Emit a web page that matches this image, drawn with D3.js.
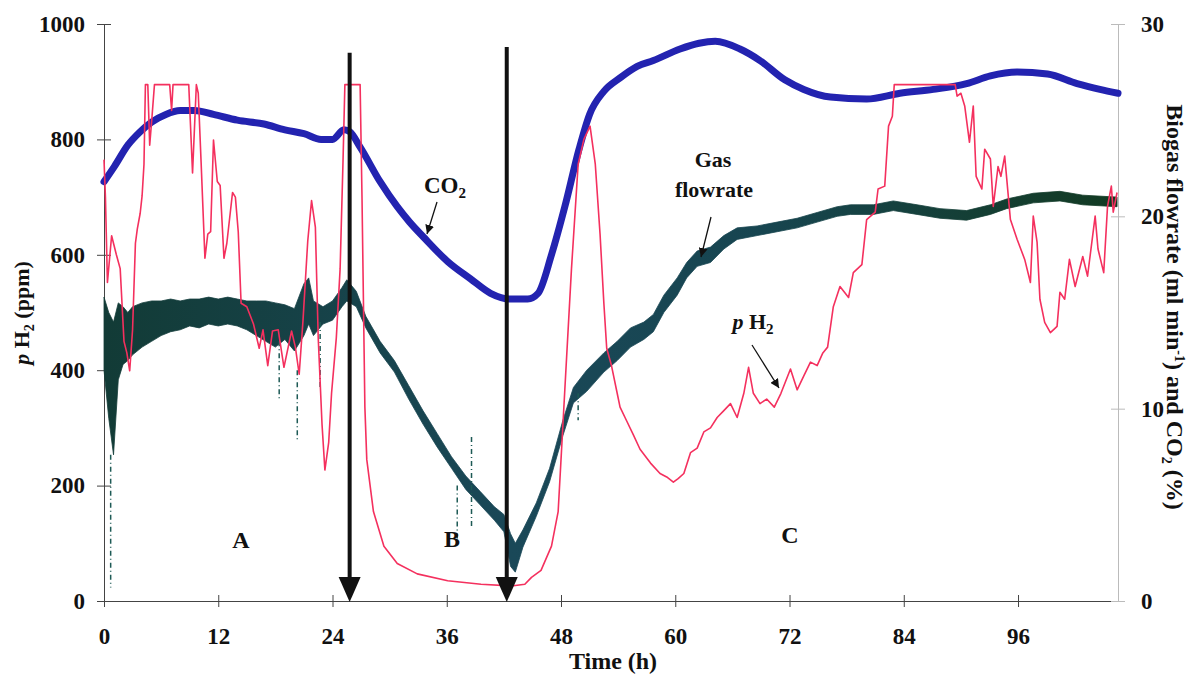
<!DOCTYPE html>
<html>
<head>
<meta charset="utf-8">
<style>
    body { margin: 0; background: #fff; }
    text { font-family: "Liberation Serif", "Times New Roman", serif; font-weight: bold; fill: #111; }
</style>
</head>
<body>
<svg id="chart" width="1201" height="678"></svg>
<script src="https://cdn.jsdelivr.net/npm/d3@7"></script>
<script>
// ---- data ----
let xTicks = [0, 12, 24, 36, 48, 60, 72, 84, 96]
let leftTicks = [0, 200, 400, 600, 800, 1000]
let rightTicks = [0, 10, 20, 30]

// CO2 (%), right axis
let co2Time = [0, 1.1, 2.5, 3.8, 5.0, 6.5, 8.0, 9.5, 11.5, 14.0, 16.8, 19.0, 21.0, 22.8, 24.0, 25.2, 25.8, 26.9,
    29.0, 30.8, 32.1, 33.6, 36.1, 38.5, 40.6, 42.6, 44.5, 45.6, 47.0, 48.4, 49.9, 51.0, 52.5, 54.2, 56.0, 57.7,
    60.5, 62.5, 64.2, 66.8, 68.9, 71.5, 73.5, 76.3, 80.1, 83.6, 87.1, 90.6, 93.1, 95.9, 99.1, 102.2, 104.6, 106.5]
let co2Values = [21.8, 22.6, 23.7, 24.4, 24.9, 25.3, 25.5, 25.5, 25.3, 25.0, 24.8, 24.5, 24.3, 24.0, 24.0, 24.5, 24.4, 23.6,
    21.8, 20.5, 19.7, 18.9, 17.65, 16.75, 16.0, 15.7, 15.7, 16.0, 18.0, 20.5, 23.5, 25.3, 26.5, 27.2, 27.8, 28.1,
    28.7, 29.0, 29.1, 28.7, 28.1, 27.1, 26.6, 26.2, 26.1, 26.4, 26.6, 26.9, 27.3, 27.5, 27.4, 26.9, 26.6, 26.4]

// pH2 (ppm), left axis
let h2Time = [0.0, 0.15, 0.36, 0.8, 1.3, 1.7, 2.1, 2.4, 2.7, 3.0, 3.3, 3.5, 3.8, 4.0, 4.2, 4.35, 4.6, 4.8, 5.05, 5.3,
    6.9, 7.1, 7.25, 8.9, 9.3, 9.7, 9.9, 10.2, 10.6, 10.9, 11.2, 11.5, 11.9, 12.2, 12.6, 12.9, 13.5, 13.8, 14.1, 14.4,
    15.0, 15.7, 16.3, 16.7, 17.2, 17.7, 18.3, 18.9, 19.7, 20.1, 20.5, 20.9, 21.4, 21.8, 22.2, 22.5, 22.9, 23.2, 23.6,
    23.9, 24.4, 24.8, 25.1, 25.3, 26.9, 27.1, 27.4, 27.6, 28.3, 29.4, 30.8, 32.9, 36.1, 39.6, 42.8, 44.2, 44.9, 45.9,
    47.0, 47.7, 48.0, 48.4, 49.1, 49.8, 50.4, 51.05, 51.6, 52.1, 52.5, 52.8, 53.3, 53.9, 54.2, 54.9, 55.6, 56.3, 57.4,
    58.4, 59.1, 59.8, 60.3, 60.9, 61.6, 62.3, 63.0, 63.7, 64.4, 65.1, 65.8, 66.5, 67.2, 67.7, 68.2, 68.9, 69.6, 70.4,
    71.1, 72.1, 72.8, 73.5, 74.2, 74.9, 75.5, 76.0, 76.6, 77.3, 78.2, 78.7, 79.6, 80.1, 81.0, 81.3, 82.0, 82.4, 82.8,
    83.0, 89.4, 89.6, 90.0, 90.4, 90.9, 91.3, 91.6, 92.2, 92.5, 93.1, 93.4, 93.9, 94.2, 94.6, 95.2, 95.9, 96.7, 97.3,
    97.6, 98.0, 98.3, 98.8, 99.4, 100.1, 100.4, 100.9, 101.4, 102.0, 102.8, 103.3, 103.7, 104.1, 104.4, 105.0, 105.4,
    105.8, 106.0, 106.4]
let h2Values = [765, 700, 552, 633, 600, 576, 450, 430, 399, 470, 620, 645, 672, 702, 757, 895, 895, 790, 841, 895,
    895, 850, 895, 895, 742, 895, 880, 760, 594, 636, 640, 799, 727, 720, 594, 620, 708, 700, 640, 516,
    510, 480, 438, 470, 408, 468, 470, 405, 468, 440, 393, 486, 624, 694, 648, 456, 306, 227, 275,
    360, 456, 576, 760, 895, 895, 697, 336, 245, 155, 95, 65, 47, 35, 29, 26, 29, 41, 53,
    95, 155, 245, 366, 576, 757, 800, 823, 757, 636, 516, 438, 408, 360, 336, 312, 288, 263, 239,
    221, 215, 206, 212, 221, 257, 265, 293, 300, 318, 330, 342, 318, 360, 405, 360, 342, 350, 336,
    360, 402, 366, 390, 414, 408, 430, 440, 510, 545, 526, 569, 583, 661, 674, 714, 719, 823, 840,
    895, 895, 875, 880, 858, 795, 858, 736, 714, 783, 766, 684, 753, 736, 771, 661, 627, 592, 552,
    667, 622, 523, 483, 465, 476, 535, 523, 592, 545, 597, 563, 615, 667, 610, 569, 684,
    719, 674, 708]

// Gas flowrate (ml/min), right axis: noisy band, low and high edge
let gasTime = [0, 0.5, 1.0, 1.5, 2.0, 2.5, 3, 4, 5, 6, 7, 8, 9, 10, 11, 12, 13, 14, 15, 16, 17, 18, 19, 20, 21, 21.5,
    22, 23, 24, 25, 25.5, 26.5, 27.5, 29, 30.5, 32, 33.5, 35, 36.5, 38, 39.5, 41, 42, 42.7, 43.2, 44, 45.4, 46.8,
    48.2, 49.3, 50.7, 52.5, 53.9, 55.3, 56.7, 57.7, 58.8, 60.2, 61.2, 62.3, 63.7, 65.1, 66.5, 68.6, 70.7, 72.8,
    74.9, 77, 78.4, 80.8, 82.9, 85.4, 87.8, 90.6, 93.1, 94.8, 97.6, 100.4, 102.8, 106.4]
let gasLow = [12.0, 9.5, 7.6, 11.5, 12.3, 12.5, 12.8, 13.2, 13.5, 13.8, 14.0, 14.1, 14.3, 14.2, 14.4, 14.3, 14.4, 14.3,
    14.1, 13.8, 13.5, 13.2, 13.6, 13.0, 13.8, 14.4, 13.8, 14.4, 14.6, 15.3, 15.6, 15.3, 14.2, 12.9, 11.9, 10.5, 9.2,
    8.0, 6.9, 5.8, 5.0, 4.2, 3.6, 1.8, 1.5, 2.8, 4.4, 6.2, 8.6, 10.3, 10.9, 11.9, 12.5, 13.2, 13.6, 14.0, 15.0, 15.9,
    16.8, 17.4, 17.6, 18.3, 18.8, 19.0, 19.2, 19.4, 19.7, 20.0, 20.1, 20.1, 20.3, 20.1, 19.9, 19.8, 20.1, 20.4, 20.7,
    20.8, 20.6, 20.5]
let gasHigh = [15.8, 15.0, 14.5, 15.5, 15.3, 15.0, 15.3, 15.5, 15.6, 15.6, 15.7, 15.6, 15.7, 15.7, 15.8, 15.7, 15.8,
    15.7, 15.6, 15.6, 15.6, 15.5, 15.4, 15.2, 16.5, 16.8, 15.6, 15.3, 15.6, 16.3, 16.7, 16.1, 14.8, 13.5, 12.5, 11.2,
    9.9, 8.7, 7.5, 6.5, 5.7, 4.9, 4.5, 3.5, 3.0, 3.7, 5.1, 6.9, 9.4, 11.1, 12.0, 12.9, 13.5, 14.2, 14.5, 14.9, 15.9,
    16.8, 17.6, 18.2, 18.4, 19.0, 19.4, 19.5, 19.7, 19.9, 20.2, 20.5, 20.6, 20.6, 20.8, 20.6, 20.4, 20.3, 20.6, 20.9,
    21.2, 21.3, 21.1, 21.0]
// dashed drop-outs in the flowrate record
let spikeTime = [0.7, 18.4, 20.3, 22.7, 37.1, 38.6, 42.2, 49.8]
let spikeFrom = [7.6, 13.5, 12.0, 14.5, 6.0, 3.9, 3.5, 10.8]
let spikeTo = [0.7, 10.5, 8.4, 11.0, 3.2, 8.6, 1.4, 9.4]

// vertical event arrows (h, top in ppm)
let eventTime = [25.8, 42.3]
let eventTop = [950, 960]

// ---- drawing ----
let svg = d3.select("#chart")

let x = d3.scaleLinear().domain([0, 106.5]).range([104, 1118])
let yL = d3.scaleLinear().domain([0, 1000]).range([601, 24])
let yR = d3.scaleLinear().domain([0, 30]).range([601, 24])

let defs = svg.append("defs")
defs.append("marker").attr("id", "head").attr("viewBox", "0 0 10 10")
    .attr("refX", 10).attr("refY", 5).attr("markerWidth", 9).attr("markerHeight", 9)
    .attr("markerUnits", "userSpaceOnUse").attr("orient", "auto")
    .append("path").attr("d", "M0,0 L10,5 L0,10 z").attr("fill", "#111")

let grad = defs.append("linearGradient").attr("id", "gasColour")
    .attr("gradientUnits", "userSpaceOnUse").attr("x1", 104).attr("x2", 1118).attr("y1", 0).attr("y2", 0)
grad.append("stop").attr("offset", "0%").attr("stop-color", "#123b36")
grad.append("stop").attr("offset", "40%").attr("stop-color", "#1a4858")
grad.append("stop").attr("offset", "65%").attr("stop-color", "#174550")
grad.append("stop").attr("offset", "100%").attr("stop-color", "#123a22")

// axes
let bottomAxis = svg.append("g").attr("transform", "translate(0,601)")
    .call(d3.axisBottom(x).tickValues(xTicks).tickSize(6).tickSizeOuter(0).tickPadding(21))
bottomAxis.selectAll(".tick line").attr("y1", -6)

let leftAxis = svg.append("g").attr("transform", "translate(104,0)")
    .call(d3.axisLeft(yL).tickValues(leftTicks).tickFormat(d3.format("d"))
        .tickSize(7).tickSizeOuter(0).tickPadding(12))
leftAxis.selectAll(".tick line").attr("x1", 7)

let rightAxis = svg.append("g").attr("transform", "translate(1118,0)")
    .call(d3.axisRight(yR).tickValues(rightTicks).tickSize(7).tickSizeOuter(0).tickPadding(16))
rightAxis.selectAll(".tick line").attr("x1", -7)

for (let g of [bottomAxis, leftAxis]) {
    g.select(".domain").attr("stroke", "#444")
    g.selectAll(".tick line").attr("stroke", "#444")
}
rightAxis.select(".domain").attr("stroke", "#bbb")
rightAxis.selectAll(".tick line").attr("stroke", "#bbb")
svg.selectAll(".tick text").style("font-family", "Liberation Serif, serif")
    .style("font-weight", "bold").style("font-size", "23px").attr("fill", "#111")

// gas flowrate band
let gasData = gasTime.map((t, i) => ({ t: t, lo: gasLow[i], hi: gasHigh[i] }))
svg.append("path").datum(gasData)
    .attr("d", d3.area().x(d => x(d.t)).y0(d => yR(d.lo)).y1(d => yR(d.hi)))
    .attr("fill", "url(#gasColour)").attr("stroke", "url(#gasColour)").attr("stroke-width", 0.8)

svg.append("g").selectAll("line").data(spikeTime).enter().append("line")
    .attr("x1", d => x(d)).attr("x2", d => x(d))
    .attr("y1", (d, i) => yR(spikeFrom[i])).attr("y2", (d, i) => yR(spikeTo[i]))
    .attr("stroke", "#1d5a55").attr("stroke-width", 1.5).attr("stroke-dasharray", "5,3,1,3")

// CO2
let co2Data = co2Time.map((t, i) => ({ t: t, v: co2Values[i] }))
svg.append("path").datum(co2Data)
    .attr("d", d3.line().x(d => x(d.t)).y(d => yR(d.v)).curve(d3.curveMonotoneX))
    .attr("fill", "none").attr("stroke", "#2323b0").attr("stroke-width", 7)
    .attr("stroke-linejoin", "round").attr("stroke-linecap", "round")

// pH2
let h2Data = h2Time.map((t, i) => ({ t: t, v: h2Values[i] }))
svg.append("path").datum(h2Data)
    .attr("d", d3.line().x(d => x(d.t)).y(d => yL(d.v)))
    .attr("fill", "none").attr("stroke", "#f4305e").attr("stroke-width", 1.6)
    .attr("stroke-linejoin", "round")

// event arrows
let ev = svg.append("g").selectAll("g").data(eventTime).enter().append("g")
ev.append("line")
    .attr("x1", d => x(d)).attr("x2", d => x(d))
    .attr("y1", (d, i) => yL(eventTop[i])).attr("y2", 580)
    .attr("stroke", "#111").attr("stroke-width", 4)
ev.append("path")
    .attr("d", d => "M" + (x(d) - 11) + ",577 L" + (x(d) + 11) + ",577 L" + x(d) + ",602 z")
    .attr("fill", "#111")

// text annotations
function label(txt, px, py, size) {
    return svg.append("text").attr("x", px).attr("y", py).attr("text-anchor", "middle")
        .style("font-size", size + "px").text(txt)
}
label("A", 241, 548, 24)
label("B", 452, 547, 24)
label("C", 790, 543, 24)

let co2Label = label("CO", 445, 193, 23)
co2Label.append("tspan").attr("dy", 5).style("font-size", "15px").text("2")
label("Gas", 713, 167, 22)
label("flowrate", 714, 197, 22)
let h2Label = svg.append("text").attr("x", 753).attr("y", 329).attr("text-anchor", "middle").style("font-size", "22px")
h2Label.append("tspan").style("font-style", "italic").text("p")
h2Label.append("tspan").text(" H")
h2Label.append("tspan").attr("dy", 5).style("font-size", "15px").text("2")

let pointers = [[437, 202, 427, 234], [711, 217, 701, 257], [752, 345, 779, 388]]
svg.append("g").selectAll("line").data(pointers).enter().append("line")
    .attr("x1", d => d[0]).attr("y1", d => d[1]).attr("x2", d => d[2]).attr("y2", d => d[3])
    .attr("stroke", "#111").attr("stroke-width", 1.3).attr("marker-end", "url(#head)")

// axis titles
label("Time (h)", 613, 669, 24)

let leftTitle = svg.append("text").attr("transform", "translate(29,313) rotate(-90)")
    .attr("text-anchor", "middle").style("font-size", "22px")
leftTitle.append("tspan").style("font-style", "italic").text("p")
leftTitle.append("tspan").text(" H")
leftTitle.append("tspan").attr("dy", 5).style("font-size", "14px").text("2")
leftTitle.append("tspan").attr("dy", -5).text(" (ppm)")

let rightTitle = svg.append("text").attr("transform", "translate(1167,307) rotate(90)")
    .attr("text-anchor", "middle").style("font-size", "24px")
rightTitle.append("tspan").text("Biogas flowrate (ml min")
rightTitle.append("tspan").attr("dy", -8).style("font-size", "14px").text("-1")
rightTitle.append("tspan").attr("dy", 8).text(") and CO")
rightTitle.append("tspan").attr("dy", 5).style("font-size", "14px").text("2")
rightTitle.append("tspan").attr("dy", -5).text(" (%)")
</script>
</body>
</html>
